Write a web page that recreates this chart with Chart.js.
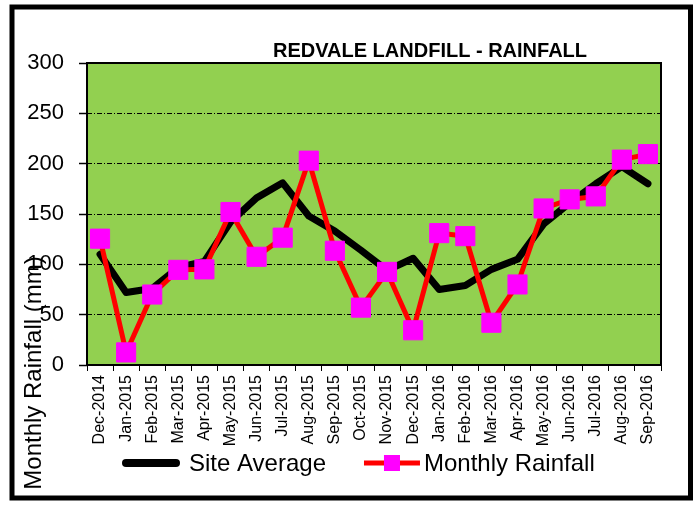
<!DOCTYPE html>
<html lang="en">
<head>
<meta charset="UTF-8">
<title>Redvale Landfill - Rainfall</title>
<script src="https://cdn.jsdelivr.net/npm/chart.js"></script>
<style>
  body {
    margin: 0;
    background: #fff;
  }
  canvas {
    display: block;
  }
</style>
</head>
<body>
<canvas id="rainChart" width="696" height="505"></canvas>
<script>
const months = ['Dec-2014', 'Jan-2015', 'Feb-2015', 'Mar-2015', 'Apr-2015', 'May-2015', 'Jun-2015',
  'Jul-2015', 'Aug-2015', 'Sep-2015', 'Oct-2015', 'Nov-2015', 'Dec-2015', 'Jan-2016', 'Feb-2016',
  'Mar-2016', 'Apr-2016', 'May-2016', 'Jun-2016', 'Jul-2016', 'Aug-2016', 'Sep-2016'];
const siteAverage = [110, 72, 76, 97, 103, 142, 166, 181, 148, 133, 114, 94, 106, 75, 79, 95, 105, 140, 161, 180, 197, 180];
const monthlyRainfall = [125.5, 12.5, 70, 94.5, 95, 152, 107.5, 126.5, 203, 113.5, 57, 92.5, 34.5, 131, 128, 42, 80, 155.5, 164.5, 167.5, 204, 209.5];
const chartTitle = 'REDVALE LANDFILL - RAINFALL';
const yTitle = 'Monthly Rainfall (mm)';
const FONT = '"Liberation Sans", Arial, sans-serif';

// background, plot frame, title, axis title, legend and sheet border
const decor = {
  id: 'decor',
  beforeDraw(chart) {
    const {ctx, chartArea: a} = chart;
    ctx.save();
    ctx.fillStyle = '#fff';
    ctx.fillRect(0, 0, chart.width, chart.height);
    ctx.fillStyle = '#92D050';
    ctx.fillRect(a.left, a.top, a.right - a.left, a.bottom - a.top);
    ctx.restore();
  },
  beforeDatasetsDraw(chart) {
    const {ctx, chartArea: a} = chart;
    ctx.save();
    ctx.strokeStyle = '#000';
    ctx.lineWidth = 2;
    ctx.strokeRect(a.left, a.top, a.right - a.left, a.bottom - a.top);
    ctx.restore();
  },
  afterDraw(chart) {
    const ctx = chart.ctx;
    ctx.save();
    ctx.fillStyle = '#000';

    ctx.font = 'bold 20px ' + FONT;
    ctx.textAlign = 'center';
    ctx.textBaseline = 'alphabetic';
    ctx.fillText(chartTitle, 430, 57);

    ctx.save();
    ctx.translate(41, 373);
    ctx.rotate(-Math.PI / 2);
    ctx.font = '24px ' + FONT;
    ctx.fillText(yTitle, 0, 0);
    ctx.restore();

    // legend
    ctx.font = '24px ' + FONT;
    ctx.textAlign = 'left';
    ctx.textBaseline = 'middle';
    let x = 122;
    const y = 463;
    chart.data.datasets.forEach((ds, i) => {
      ctx.strokeStyle = ds.borderColor;
      ctx.lineCap = i === 0 ? 'round' : 'butt';
      ctx.lineWidth = i === 0 ? 8 : 5;
      ctx.beginPath();
      ctx.moveTo(x + (i === 0 ? 4 : 0), y);
      ctx.lineTo(x + (i === 0 ? 54 : 56), y);
      ctx.stroke();
      if (ds.pointRadius) {
        ctx.fillStyle = ds.pointBackgroundColor;
        ctx.fillRect(x + 20, y - 8, 16, 16);
      }
      ctx.fillStyle = '#000';
      ctx.fillText(ds.label, x + (i === 0 ? 67 : 60), y + 1);
      x += (i === 0 ? 67 : 60) + ctx.measureText(ds.label).width + 38;
    });

    ctx.strokeStyle = '#000';
    ctx.lineWidth = 5;
    ctx.strokeRect(12, 7, 678.5, 491);
    ctx.restore();
  }
};

new Chart(document.getElementById('rainChart'), {
  type: 'line',
  data: {
    labels: months,
    datasets: [
      {
        label: 'Site Average',
        data: siteAverage,
        borderColor: '#000',
        borderWidth: 7,
        borderCapStyle: 'round',
        borderJoinStyle: 'round',
        pointRadius: 0,
        order: 2
      },
      {
        label: 'Monthly Rainfall',
        data: monthlyRainfall,
        borderColor: '#FF0000',
        borderWidth: 5,
        pointStyle: 'rect',
        pointRadius: 13.5,
        pointBackgroundColor: '#FF00FF',
        pointBorderColor: '#FF00FF',
        pointBorderWidth: 1,
        order: 1
      }
    ]
  },
  options: {
    responsive: false,
    animation: false,
    layout: {
      padding: {left: 22, right: 35, top: 63, bottom: 60}
    },
    plugins: {
      legend: {display: false},
      tooltip: {enabled: false}
    },
    scales: {
      x: {
        offset: true,
        afterFit(scale) { scale.height = 80; },
        grid: {
          offset: true,
          drawOnChartArea: false,
          tickLength: 6,
          color: '#000'
        },
        border: {display: false},
        ticks: {
          autoSkip: false,
          minRotation: 90,
          maxRotation: 90,
          padding: 4,
          color: '#000',
          font: {family: FONT, size: 16}
        }
      },
      y: {
        min: 0,
        max: 300,
        afterFit(scale) { scale.width = 65; },
        grid: {
          color: '#000',
          lineWidth: 1,
          tickLength: 8,
          tickBorderDash: [],
          tickWidth: 1.5
        },
        border: {display: false, dash: [5, 2, 1, 2]},
        ticks: {
          stepSize: 50,
          padding: 15,
          color: '#000',
          font: {family: FONT, size: 22}
        }
      }
    }
  },
  plugins: [decor]
});
</script>
</body>
</html>
